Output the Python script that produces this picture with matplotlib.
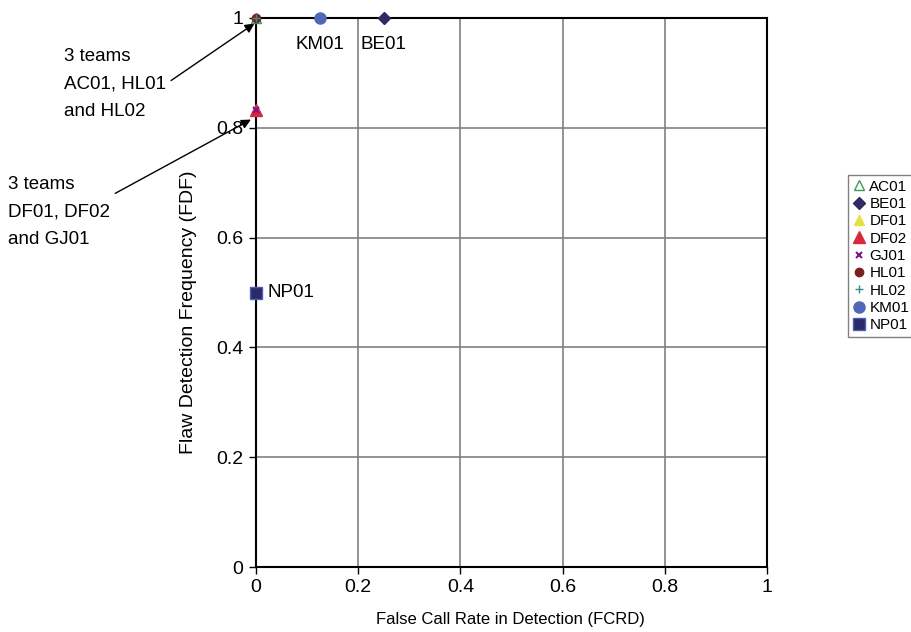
import matplotlib
matplotlib.use('Agg')
import matplotlib.pyplot as plt

plt.rcParams['font.family'] = ['Liberation Sans', 'DejaVu Sans']
plt.rcParams['font.size'] = 12

# team results: (FCRD, FDF)
teams = ['AC01', 'BE01', 'DF01', 'DF02', 'GJ01', 'HL01', 'HL02', 'KM01', 'NP01']
fcrd = [0.0, 0.25, 0.0, 0.0, 0.0, 0.0, 0.0, 0.125, 0.0]
fdf = [1.0, 1.0, 0.833, 0.833, 0.833, 1.0, 1.0, 1.0, 0.5]

xticks = [0, 0.2, 0.4, 0.6, 0.8, 1]
yticks = [0, 0.2, 0.4, 0.6, 0.8, 1]
xtick_labels = ['0', '0.2', '0.4', '0.6', '0.8', '1']
ytick_labels = ['0', '0.2', '0.4', '0.6', '0.8', '1']

# marker styles per team
styles = {
    'AC01': dict(marker='^', mfc='none', mec='#3e9a5a', ms=7, mew=1),
    'BE01': dict(marker='D', mfc='#2e2a64', mec='#2e2a64', ms=6),
    'DF01': dict(marker='^', mfc='#e8e040', mec='#e8e040', ms=7),
    'DF02': dict(marker='^', mfc='#d8283c', mec='#d8283c', ms=8),
    'GJ01': dict(marker='x', mfc='#7a1a8a', mec='#7a1a8a', ms=5, mew=1.5),
    'HL01': dict(marker='o', mfc='#7a2020', mec='#7a2020', ms=6),
    'HL02': dict(marker='+', mfc='#3a8a8a', mec='#3a8a8a', ms=6, mew=1),
    'KM01': dict(marker='o', mfc='#5068b8', mec='#5068b8', ms=8),
    'NP01': dict(marker='s', mfc='#2a2a6a', mec='#5060b0', ms=8, mew=1),
}

fig = plt.figure(figsize=(9.11, 6.32), dpi=100)
ax = fig.add_axes([256/911, 65/632, 511/911, 549/632])

for t, x, y in zip(teams, fcrd, fdf):
    ax.plot([x], [y], linestyle='none', label=t, clip_on=False, zorder=5, **styles[t])

ax.set_xlim(0, 1)
ax.set_ylim(0, 1)
ax.set_xticks(xticks)
ax.set_xticklabels(xtick_labels)
ax.set_yticks(yticks)
ax.set_yticklabels(ytick_labels)
ax.grid(color='#808080', linewidth=1.2)
for s in ax.spines.values():
    s.set_linewidth(1.5)
    s.set_color('black')
ax.tick_params(direction='out', length=5, width=1, pad=4, labelsize=14)

ax.set_xlabel('False Call Rate in Detection (FCRD)', fontsize=12)
ax.xaxis.set_label_coords(0.498, -0.082)
ax.set_ylabel('Flaw Detection Frequency (FDF)', fontsize=14)
ax.yaxis.set_label_coords(-0.116, 0.464)

# point labels
ax.text(0.125, 0.952, 'KM01', ha='center', va='center', fontsize=13.5)
ax.text(0.25, 0.952, 'BE01', ha='center', va='center', fontsize=13.5)
ax.text(0.022, 0.5, 'NP01', ha='left', va='center', fontsize=13.5)

# callouts
ax.annotate('3 teams\nAC01, HL01\nand HL02', xy=(-0.003, 0.99), xycoords='data',
            xytext=(64/911, 548/632), textcoords='figure fraction', fontsize=13.5,
            ha='left', va='center', linespacing=1.8, annotation_clip=False,
            arrowprops=dict(arrowstyle='-|>', color='black', lw=1, mutation_scale=14,
                            shrinkA=2, shrinkB=0, relpos=(1.0, 0.5)))
ax.annotate('3 teams\nDF01, DF02\nand GJ01', xy=(-0.01, 0.815), xycoords='data',
            xytext=(8/911, 420/632), textcoords='figure fraction', fontsize=13.5,
            ha='left', va='center', linespacing=1.8, annotation_clip=False,
            arrowprops=dict(arrowstyle='-|>', color='black', lw=1, mutation_scale=14,
                            shrinkA=2, shrinkB=0, relpos=(1.0, 0.72)))

leg = fig.legend(loc='upper left', bbox_to_anchor=(848/911, 457/632), fontsize=11,
                 frameon=True, fancybox=False, edgecolor='#808080', framealpha=1,
                 handlelength=0.8, handletextpad=0.3, labelspacing=0.22,
                 borderpad=0.3, borderaxespad=0)
leg.get_frame().set_linewidth(1)

fig.savefig('out.png', dpi=100)
